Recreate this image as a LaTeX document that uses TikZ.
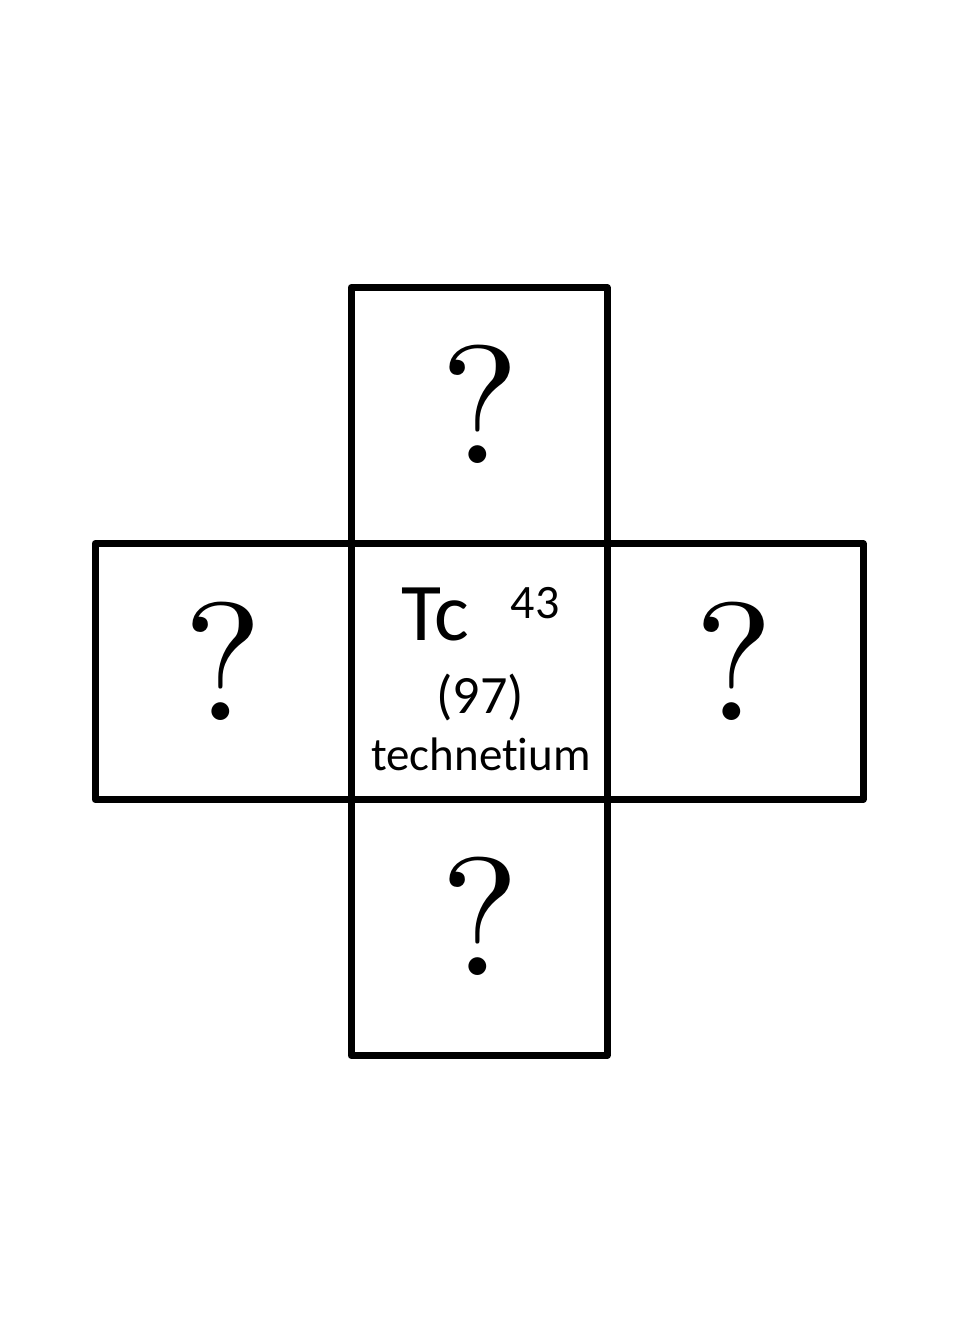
\documentclass[tikz,border=0pt]{standalone}
\usepackage{fontspec}
\newfontfamily\cellfont{Carlito}[Ligatures=NoCommon]
\newfontfamily\queryfont{lmroman10-regular}[Extension=.otf]
\usetikzlibrary{positioning}
\tikzset{
  cell/.style={draw, line width=3.5pt, line join=round, outer sep=0pt,
               inner sep=0pt, minimum size=128pt},
  query/.style={font=\queryfont\fontsize{84}{84}\selectfont, anchor=base, inner sep=0pt},
  elem/.style={anchor=base, inner sep=0pt},
}
\begin{document}
\begin{tikzpicture}[x=0.5pt, y=-0.5pt]
  \useasboundingbox (0,0) rectangle (960,1344);
  % ================= cross of cells =================
  \node[cell] (mid) at (479,671.5) {};
  \node[cell, above=0pt of mid] (top) {};
  \node[cell, below=0pt of mid] (bot) {};
  \node[cell, left=0pt of mid] (lft) {};
  \node[cell, right=0pt of mid] (rgt) {};
  % ================= unknown neighbours =================
  \node[query] (qtop) at (480,463) {?};
  \node[query] (qbot) at (480,975) {?};
  \node[query] (qlft) at (223,720) {?};
  \node[query] (qrgt) at (734,720) {?};
  % ================= element data =================
  \node[elem, font=\cellfont\fontsize{41}{41}\selectfont] (sym) at (435,640) {Tc};
  \node[elem, font=\cellfont\fontsize{24}{24}\selectfont] (znum) at (535,618) {43};
  \node[elem, font=\cellfont\fontsize{27}{27}\selectfont] (mass) at (480,713) {(97)};
  \node[elem, font=\cellfont\fontsize{23.5}{23.5}\selectfont] (name) at (481,770) {technetium};
\end{tikzpicture}
\end{document}
